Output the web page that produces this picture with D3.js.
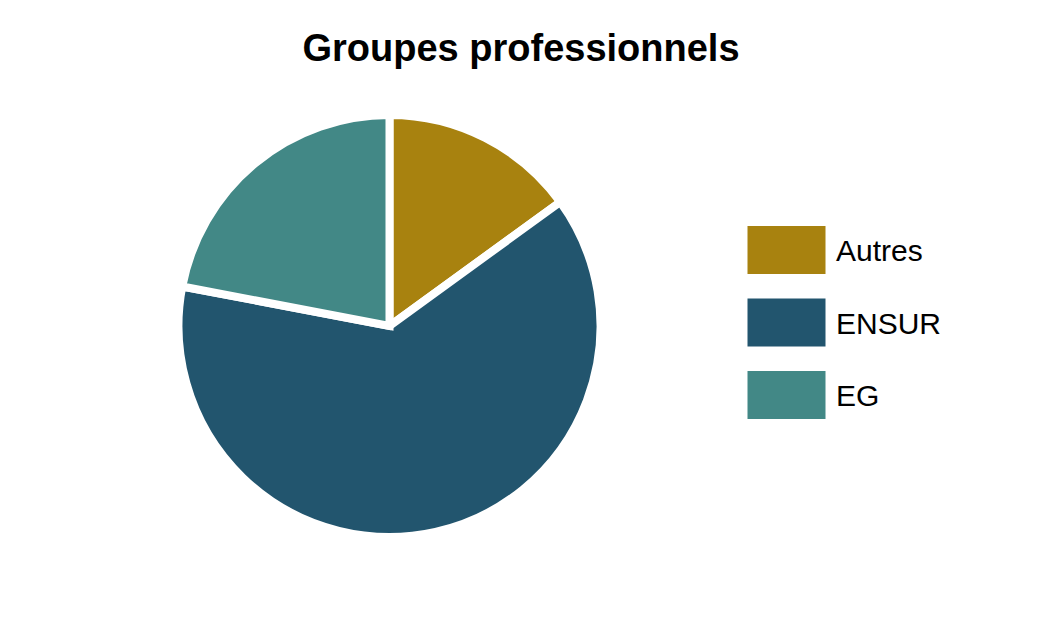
<!DOCTYPE html>
<html lang="fr">
<head>
<meta charset="UTF-8">
<title>Groupes professionnels</title>
<script src="https://d3js.org/d3.v7.min.js"></script>
<style>
  body { margin: 0; background: #fff; }
  text { font-family: "Liberation Sans", Arial, Helvetica, sans-serif; }
</style>
</head>
<body>
<script>
// data (shares in %)
var categories = ["Autres", "ENSUR", "EG"];
var values = [15, 63, 22];
var colors = ["#A8820F", "#22556E", "#428886"];

var width = 1042, height = 625;
var cx = 389.5, cy = 326, radius = 211;

var svg = d3.select("body").append("svg")
    .attr("width", width)
    .attr("height", height);

svg.append("text")
    .attr("x", 521)
    .attr("y", 61)
    .attr("text-anchor", "middle")
    .style("font-size", "38px")
    .style("font-weight", "bold")
    .text("Groupes professionnels");

var color = d3.scaleOrdinal().domain(categories).range(colors);

// pie starts at 12 o'clock and goes clockwise, in data order
var pie = d3.pie().sort(null).value(function(d, i) { return values[i]; });
var arc = d3.arc().innerRadius(0).outerRadius(radius);

var g = svg.append("g").attr("transform", "translate(" + cx + "," + cy + ")");

g.selectAll("path")
    .data(pie(categories))
    .enter()
    .append("path")
    .attr("d", arc)
    .attr("fill", function(d) { return color(d.data); })
    .attr("stroke", "#fff")
    .attr("stroke-width", 8)
    .attr("stroke-linejoin", "miter");

// legend, one row per category
var row = d3.scalePoint().domain(categories).range([0, 145]);

var item = svg.append("g")
    .attr("transform", "translate(747.5,226)")
    .selectAll("g")
    .data(categories)
    .enter()
    .append("g")
    .attr("transform", function(d) { return "translate(0," + row(d) + ")"; });

item.append("rect")
    .attr("width", 78)
    .attr("height", 48)
    .attr("fill", function(d) { return color(d); });

item.append("text")
    .attr("x", 88.5)
    .attr("y", 35)
    .style("font-size", "30px")
    .text(function(d) { return d; });
</script>
</body>
</html>
